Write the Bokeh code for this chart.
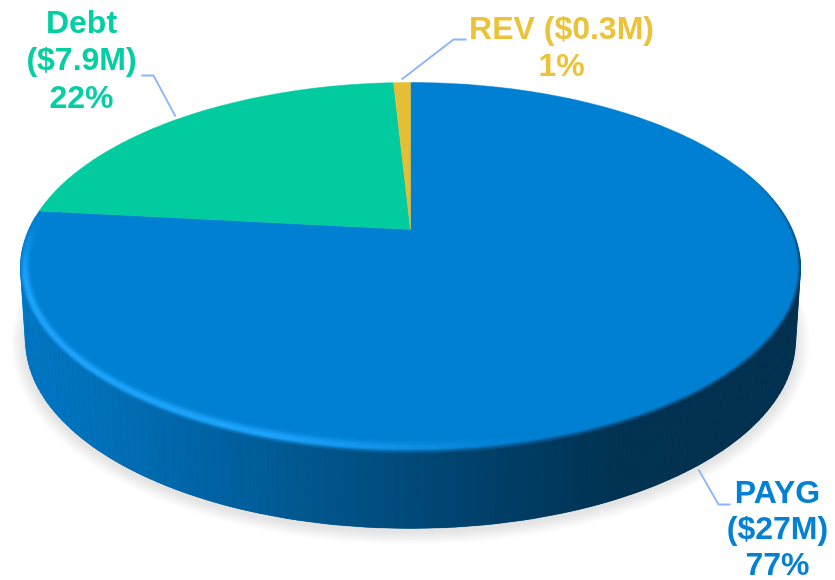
import numpy as np
from bokeh.plotting import figure
from bokeh.embed import file_html
from bokeh.resources import INLINE
from bokeh.core.properties import value

# ---- data ----
names = ["PAYG", "Debt", "REV"]
amounts = [27.0, 7.9, 0.3]
colors = ["#0080D2", "#03CBA0", "#E4BF36"]
label_colors = ["#0581D4", "#04CEA3", "#EAC33A"]
label_lines = [["PAYG", "($27M)", "77%"], ["Debt", "($7.9M)", "22%"], ["REV ($0.3M)", "1%"]]
label_x = [777, 81, 561]
label_first_y = [491, 21, 27.5]
label_step = [36, 37.5, 37]
leader_x = [[698, 718, 730], [141, 153, 175], [466, 453, 401]]
leader_y = [[469, 504, 504], [75, 75, 116], [39, 39, 79]]

# ---- layout of the 3D disc ----
CX, CY, A, B = 410.0, 267.0, 390.0, 185.0
BCY, BA, BB = 340.0, 385.0, 188.0
APEX_SHIFT = (267.0 - 229.0) / 185.0


def hex2rgb(h):
    return np.array([int(h[i:i + 2], 16) for i in (1, 3, 5)], float)


def rgb2hex(c):
    c = np.clip(np.round(c), 0, 255).astype(int)
    return "#%02x%02x%02x" % tuple(c)


WALL_X = [20, 100, 200, 300, 420, 520, 620, 800]
WALL_C = [hex2rgb(h) for h in
          ["#0078C6", "#0070B8", "#0064A6", "#00588F", "#004877", "#003C63", "#023252", "#02304E"]]


def wall_color(x):
    return np.array([np.interp(x, WALL_X, [c[i] for c in WALL_C]) for i in range(3)])


def face_point(theta):
    """pie angle (clockwise from 12 o'clock) -> page point, perspective-shifted centre"""
    x, z = np.sin(theta), np.cos(theta)
    c = APEX_SHIFT
    w = 1 + c * z
    return CX + A * x * np.sqrt(1 - c * c) / w, CY - B * (z + c) / w


p = figure(width=835, height=580, x_range=(0, 835), y_range=(580, 0),
           output_backend="svg", toolbar_location=None, min_border=0,
           outline_line_color=None, background_fill_color="white", border_fill_color="white",
           styles={"position": "fixed", "left": "0", "top": "0"})
p.axis.visible = False
p.grid.visible = False

# soft shadow
phi_all = np.linspace(0, 2 * np.pi, 181)
for k in range(9, 0, -1):
    p.patch(410 + (BA + 1.6 * k) * np.cos(phi_all), BCY + 3 + (BB + 1.4 * k) * np.sin(phi_all),
            fill_color="#808080", fill_alpha=0.028, line_color=None)

# wall
phi = np.radians(np.linspace(-6, 186, 130))
tx, ty = CX + A * np.cos(phi), CY + B * np.sin(phi)
bx, by = CX + BA * np.cos(phi), BCY + BB * np.sin(phi)
wx, wy, wc = [], [], []
for i in range(len(phi) - 1):
    wx.append([tx[i], tx[i + 1], bx[i + 1], bx[i]])
    wy.append([ty[i], ty[i + 1], by[i + 1], by[i]])
    wc.append(rgb2hex(wall_color((tx[i] + tx[i + 1]) / 2)))
p.patch(np.r_[tx, bx[::-1]], np.r_[ty, by[::-1]], fill_color="#00507F", line_color=None)
p.patches(wx, wy, fill_color=wc, fill_alpha=1.0, line_color=wc, line_width=0.3)

# top face, one slice per value
total = sum(amounts)
start = 0.0
for amt, col in zip(amounts, colors):
    end = start + amt / total * 2 * np.pi
    th = np.linspace(start, end, max(3, int(amt / total * 360)))
    sx, sy = face_point(th)
    ay = CY - B * APEX_SHIFT
    p.patch(np.r_[CX, sx], np.r_[ay, sy], fill_color=col, line_color=col, line_width=0.5)
    start = end

# bevelled rim: bright on the lit side, dark on the shaded side
FACE = hex2rgb(colors[0])
BRIGHT = hex2rgb("#1FA4FC")
LAYERS = 10
phb = np.radians(np.linspace(-32, 196, 115))
rx, ry, rc = [], [], []
for j in range(LAYERS):
    d0, d1 = j / LAYERS, (j + 1) / LAYERS
    dm = (d0 + d1) / 2
    for i in range(len(phb) - 1):
        f0, f1 = phb[i], phb[i + 1]
        fm = (f0 + f1) / 2
        xm = CX + A * np.cos(fm)
        t = (xm - 20) / 780
        h = np.clip((0.64 - t) / 0.32, 0, 1)
        deg = np.degrees(fm)
        fade = min(np.clip((deg + 32) / 32, 0, 1), np.clip((196 - deg) / 20, 0, 1))
        bright = FACE + (BRIGHT - FACE) * h
        wall = wall_color(xm)
        if dm < 0.3:
            c = wall + (bright - wall) * (dm / 0.3)
        elif dm < 0.52:
            c = bright
        else:
            c = bright + (FACE - bright) * ((dm - 0.52) / 0.48)
        c = FACE + (c - FACE) * fade
        a0, b0 = A - 11 * d0, B - 13 * d0
        a1, b1 = A - 11 * d1, B - 13 * d1
        rx.append([CX + a0 * np.cos(f0), CX + a0 * np.cos(f1), CX + a1 * np.cos(f1), CX + a1 * np.cos(f0)])
        ry.append([CY + b0 * np.sin(f0), CY + b0 * np.sin(f1), CY + b1 * np.sin(f1), CY + b1 * np.sin(f0)])
        rc.append(rgb2hex(c))
p.patches(rx, ry, fill_color=rc, line_color=rc, line_width=0.6)

# leader lines
for lx, ly in zip(leader_x, leader_y):
    p.line(lx, ly, line_color="#8AB4FF", line_width=1.8)

# labels
for lines, x0, y0, step, col in zip(label_lines, label_x, label_first_y, label_step, label_colors):
    p.text([x0] * len(lines), [y0 + i * step for i in range(len(lines))], text=lines,
           text_color=col, text_font=value("Liberation Sans"), text_font_style="bold",
           text_font_size="32px", text_align="center", text_baseline="middle")

open("out.html", "w").write(file_html(p, INLINE))
